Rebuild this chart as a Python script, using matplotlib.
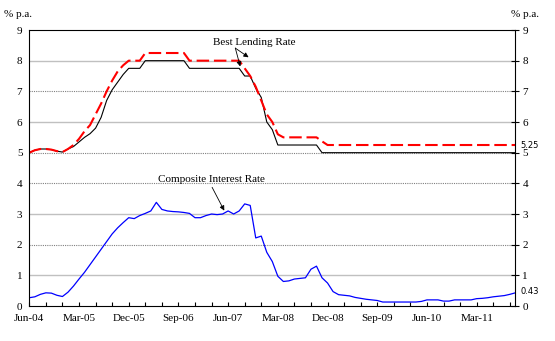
import numpy as np
import matplotlib
matplotlib.use("Agg")
import matplotlib.pyplot as plt

plt.rcParams['font.family'] = ['Liberation Serif', 'DejaVu Serif']

# monthly observations, Jun-04 .. Oct-11
blr_high = [5.00, 5.08, 5.12, 5.12, 5.10, 5.05, 5.02, 5.12, 5.25, 5.45,
            5.70, 5.90, 6.25, 6.60, 7.00, 7.35, 7.65, 7.85, 8.00, 8.00,
            8.00, 8.25, 8.25, 8.25, 8.25, 8.25, 8.25, 8.25, 8.25, 8.00,
            8.00, 8.00, 8.00, 8.00, 8.00, 8.00, 8.00, 8.00, 8.00, 7.75,
            7.50, 7.15, 6.70, 6.25, 6.00, 5.60, 5.50, 5.50, 5.50, 5.50,
            5.50, 5.50, 5.50, 5.37] + [5.25] * 35
blr_low = [5.00, 5.08, 5.12, 5.12, 5.10, 5.05, 5.02, 5.12, 5.20, 5.35,
           5.50, 5.62, 5.80, 6.15, 6.70, 7.05, 7.30, 7.55, 7.75, 7.75,
           7.75, 8.00, 8.00, 8.00, 8.00, 8.00, 8.00, 8.00, 8.00, 7.75,
           7.75, 7.75, 7.75, 7.75, 7.75, 7.75, 7.75, 7.75, 7.75, 7.50,
           7.50, 7.10, 6.80, 6.00, 5.75, 5.25, 5.25, 5.25, 5.25, 5.25,
           5.25, 5.25, 5.25] + [5.00] * 36
composite = [0.27, 0.30, 0.38, 0.43, 0.42, 0.35, 0.31, 0.45, 0.65, 0.88,
             1.10, 1.35, 1.60, 1.85, 2.10, 2.35, 2.55, 2.72, 2.88, 2.85,
             2.95, 3.02, 3.10, 3.38, 3.15, 3.10, 3.08, 3.07, 3.05, 3.02,
             2.88, 2.88, 2.95, 3.00, 2.98, 3.00, 3.10, 3.00, 3.10, 3.33,
             3.28, 2.22, 2.28, 1.75, 1.45, 0.97, 0.80, 0.82, 0.88, 0.90,
             0.92, 1.20, 1.30, 0.92, 0.75, 0.47, 0.37, 0.35, 0.33, 0.28,
             0.25, 0.22, 0.20, 0.18, 0.13, 0.13, 0.13, 0.13, 0.13, 0.13,
             0.13, 0.15, 0.20, 0.20, 0.20, 0.16, 0.16, 0.20, 0.20, 0.20,
             0.20, 0.24, 0.25, 0.27, 0.30, 0.32, 0.34, 0.38, 0.43]
xtick_labels = ['Jun-04', 'Mar-05', 'Dec-05', 'Sep-06', 'Jun-07',
                'Mar-08', 'Dec-08', 'Sep-09', 'Jun-10', 'Mar-11']

x = np.arange(len(composite))

fig = plt.figure(figsize=(5.55, 3.41), dpi=100)
ax = fig.add_axes([0.0528, 0.1026, 0.8757, 0.8094])

# gridlines: light solid and dotted grey alternate
for lvl in [1, 3, 6, 8]:
    ax.axhline(lvl, color='#c0c0c0', lw=1, zorder=0)
for lvl in [2, 4, 5, 7]:
    ax.axhline(lvl, color='#808080', lw=0.8, ls=(0, (1, 1)), zorder=0)

ax.plot(x, blr_low, color='black', lw=0.8)
ax.plot(x, blr_high, color='#ff0000', lw=1.5, dashes=(6, 2.3))
ax.plot(x, composite, color='#0000ff', lw=0.9)

ax.set_xlim(0, len(x) - 1)
ax.set_ylim(0, 9)
ax.set_xticks(np.arange(0, len(x), 9))
ax.set_xticklabels(xtick_labels, fontsize=8)
ax.set_xticks(np.arange(0, len(x), 3), minor=True)
ax.tick_params(axis='x', which='both', direction='in', length=3, width=0.8, pad=6)
ax.set_yticks(range(10))
ax.tick_params(axis='y', which='both', left=True, right=True, labelleft=True,
               labelright=True, direction='inout', length=6, width=0.8,
               labelsize=8, pad=2)
ax.tick_params(axis='y', left=False)
for s in ax.spines.values():
    s.set_linewidth(0.8)

ax.text(len(x) - 1 + 1.0, blr_high[-1], '5.25', fontsize=6, family='DejaVu Sans',
        va='center', ha='left')
ax.text(len(x) - 1 + 1.0, composite[-1] + 0.03, '0.43', fontsize=6, family='DejaVu Sans',
        va='center', ha='left')

fig.text(0.008, 0.945, '% p.a.', fontsize=8, ha='left', va='bottom')
fig.text(0.92, 0.945, '% p.a.', fontsize=8, ha='left', va='bottom')

arrow = dict(arrowstyle='-|>', color='black', lw=0.6, mutation_scale=7,
             shrinkA=0, shrinkB=0)
ax.text(33.3, 8.6, 'Best Lending Rate', fontsize=8, ha='left', va='center')
ax.annotate('', xy=(39.7, 8.11), xytext=(37.3, 8.41), arrowprops=arrow)
ax.annotate('', xy=(38.2, 7.81), xytext=(37.3, 8.41), arrowprops=arrow)
ax.text(23.3, 4.11, 'Composite Interest Rate', fontsize=8, ha='left', va='center')
ax.annotate('', xy=(35.3, 3.11), xytext=(33.1, 3.87), arrowprops=arrow)

fig.savefig('out.png', dpi=100)
